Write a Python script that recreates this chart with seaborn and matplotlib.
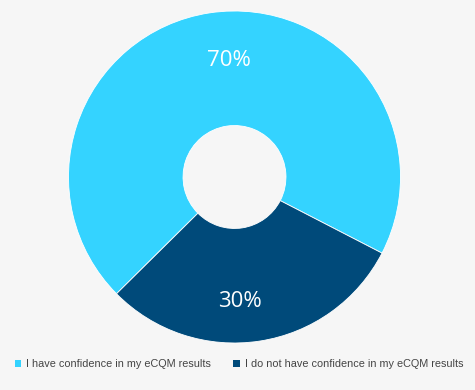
import matplotlib
matplotlib.use("Agg")
import numpy as np
import matplotlib.pyplot as plt
from matplotlib.patches import Patch
import seaborn as sns

labels = ["I have confidence in my eCQM results",
          "I do not have confidence in my eCQM results"]
values = [70, 30]
colors_hex = ["#34D3FF", "#004A7A"]

bg = "#f6f6f6"
sns.set_theme(style="white")
plt.rcParams["font.family"] = ["Liberation Sans", "DejaVu Sans"]
palette = sns.color_palette(colors_hex)

W, H = 475, 390
fig = plt.figure(figsize=(W / 100, H / 100), dpi=100, facecolor=bg)
cx, cy, r = 234.5, 177, 166
ax = fig.add_axes([(cx - r) / W, (H - cy - r) / H, 2 * r / W, 2 * r / H])
ax.set_facecolor(bg)

wedges, texts, autotexts = ax.pie(
    values, colors=palette, startangle=-27.3, counterclock=True,
    radius=1.0, autopct=lambda p: f"{p:.0f}%", pctdistance=0.72,
    wedgeprops=dict(width=0.69, edgecolor="white", linewidth=0.6),
    textprops=dict(color="white", fontsize=16, family=["Open Sans", "DejaVu Sans"]))

# nudge percentage labels (label placement style of the original)
label_r = [0.70, 0.75]
label_shift = -6
for w, t, lr in zip(wedges, autotexts, label_r):
    a = np.deg2rad((w.theta1 + w.theta2) / 2 + label_shift)
    t.set_position((lr * np.cos(a), lr * np.sin(a)))

ax.set_xlim(-1, 1)
ax.set_ylim(-1, 1)
ax.set_aspect("equal")
ax.axis("off")

handles = [Patch(facecolor=c, edgecolor="none") for c in palette]
fig.legend(handles, labels, loc="center", bbox_to_anchor=(239 / W, (H - 364) / H),
           ncol=2, frameon=False, fontsize=7.8, handlelength=0.6, handleheight=0.6,
           handletextpad=0.5, columnspacing=2.0, labelcolor="#444444")

fig.savefig("out.png", dpi=100, facecolor=bg)
